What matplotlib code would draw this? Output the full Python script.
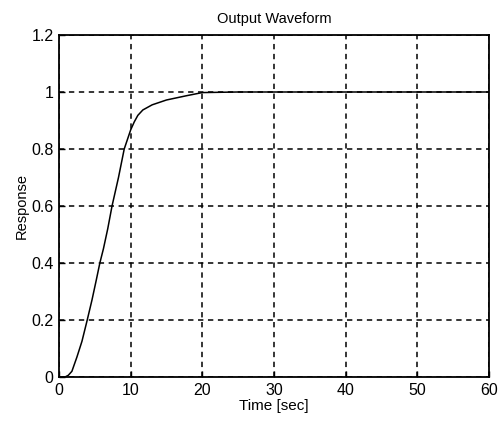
import numpy as np
import matplotlib.pyplot as plt

plt.rcParams['font.family'] = ['Liberation Sans', 'DejaVu Sans']

# valores
tiempo = [0.0, 0.84, 1.3, 1.8, 2.5, 3.2, 3.9, 4.6, 5.2, 5.7, 6.2, 6.8, 7.4, 8.3, 9.1,
          10.0, 10.5, 11.0, 11.7, 13.0, 15.0, 17.8, 20.0, 25.0, 30.0, 40.0, 50.0, 60.0]
respuesta = [0.0, 0.0, 0.006, 0.02, 0.07, 0.125, 0.196, 0.27, 0.34, 0.40, 0.45, 0.52,
             0.60, 0.70, 0.80, 0.867, 0.895, 0.918, 0.937, 0.955, 0.972, 0.987, 0.998,
             1.0, 1.0, 1.0, 1.0, 1.0]

xticks = [0, 10, 20, 30, 40, 50, 60]
yticks = [0, 0.2, 0.4, 0.6, 0.8, 1.0, 1.2]
ytick_labels = ['0', '0.2', '0.4', '0.6', '0.8', '1', '1.2']

fig = plt.figure(figsize=(5.02, 4.23), dpi=100)
ax = fig.add_axes([59 / 502, 1 - 377 / 423, 430 / 502, 342 / 423])

ax.plot(tiempo, respuesta, color='black', linewidth=1.1)

ax.set_xlim(0, 60)
ax.set_ylim(0, 1.2)
ax.set_xticks(xticks)
ax.set_yticks(yticks)
ax.set_yticklabels(ytick_labels)
ax.tick_params(direction='in', labelsize=11.5, length=4, width=1, colors='black', pad=4)
ax.grid(True, color='black', linestyle=(0, (3.5, 3)), linewidth=1.1)
for s in ax.spines.values():
    s.set_linewidth(1.3)

ax.set_title('Output Waveform', fontsize=10.5, pad=9)
ax.set_xlabel('Time [sec]', fontsize=11, labelpad=1)
ax.set_ylabel('Response', fontsize=10.5, labelpad=2)

fig.savefig('out.png', dpi=100)
